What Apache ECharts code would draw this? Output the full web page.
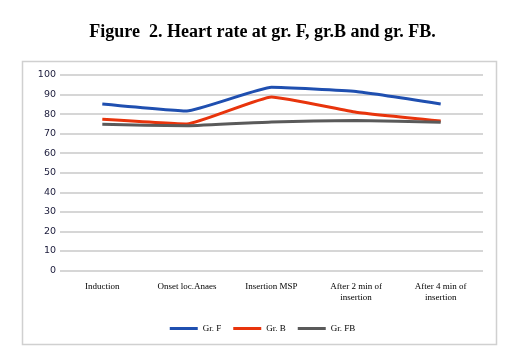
<!DOCTYPE html>
<html><head><meta charset="utf-8">
<script src="https://cdn.jsdelivr.net/npm/echarts@6/dist/echarts.min.js"></script>
<style>html,body{margin:0;padding:0;background:#fff}#c{width:525px;height:359px}</style>
</head><body><div id="c"></div>
<script>
const categories = ["Induction", "Onset loc.Anaes", "Insertion MSP", "After 2 min of\ninsertion", "After 4 min of\ninsertion"];
const grF = [85.2, 81.6, 93.7, 91.5, 85.2];
const grB = [77.4, 75.0, 88.8, 81.0, 76.5];
const grFB = [74.8, 74.0, 76.0, 76.7, 75.8];
const yTicks = { min: 0, max: 100, interval: 10 };

const chart = echarts.init(document.getElementById('c'));
const serif = '"Liberation Serif", "DejaVu Serif", serif';
function line(name, data, color) {
  return { name, type: 'line', data, smooth: 0.12, symbol: 'none',
    lineStyle: { color, width: 3 }, itemStyle: { color } };
}
chart.setOption({
  animation: false,
  title: { text: 'Figure  2. Heart rate at gr. F, gr.B and gr. FB.', left: 'center', top: 18,
    textStyle: { fontFamily: serif, fontSize: 18, fontWeight: 'bold', color: '#000' } },
  graphic: [{ type: 'rect', shape: { x: 22.5, y: 61.5, width: 474, height: 283 },
    style: { fill: 'none', stroke: '#d0d0d0', lineWidth: 1.5 } }],
  grid: { left: 60, right: 42, top: 75, bottom: 88.5 },
  legend: { bottom: 21, left: 'center', icon: 'rect', itemWidth: 28, itemHeight: 3, itemGap: 12,
    textStyle: { fontFamily: serif, fontSize: 9, color: '#000' } },
  xAxis: { type: 'category', data: categories, boundaryGap: true,
    axisLine: { show: false }, axisTick: { show: false },
    axisLabel: { fontFamily: serif, fontSize: 9, color: '#000', margin: 11, interval: 0, lineHeight: 11 } },
  yAxis: { type: 'value', min: yTicks.min, max: yTicks.max, interval: yTicks.interval,
    axisLine: { show: false }, axisTick: { show: false },
    axisLabel: { fontFamily: '"DejaVu Sans", sans-serif', fontSize: 9.5, color: '#1a1a3a', margin: 4 },
    splitLine: { lineStyle: { color: '#c8c8c8', width: 1.5 } } },
  series: [line('Gr. F', grF, '#1f4fb0'), line('Gr. B', grB, '#e8340c'), line('Gr. FB', grFB, '#5a5a5a')]
});
</script></body></html>
